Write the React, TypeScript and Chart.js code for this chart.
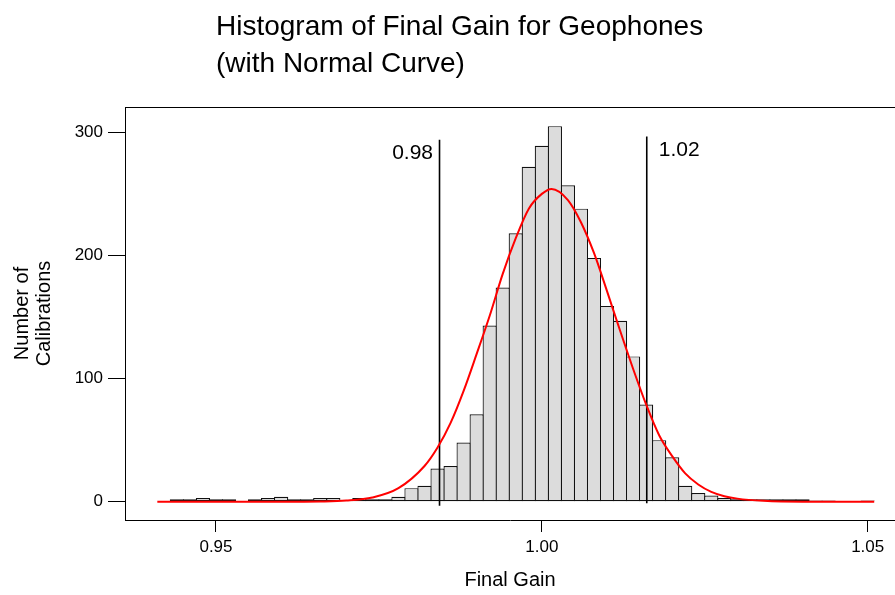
import React, { useEffect, useRef } from 'react';
import { Chart, registerables } from 'chart.js';

Chart.register(...registerables);

const FONT = '"Liberation Sans", Arial, Helvetica, sans-serif';

// Histogram bins (bin centres, width 0.002) and counts
const binCenters = [
  0.944, 0.946, 0.948, 0.95, 0.952, 0.954, 0.956, 0.958, 0.96, 0.962,
  0.964, 0.966, 0.968, 0.97, 0.972, 0.974, 0.976, 0.978, 0.98, 0.982,
  0.984, 0.986, 0.988, 0.99, 0.992, 0.994, 0.996, 0.998, 1.0, 1.002,
  1.004, 1.006, 1.008, 1.01, 1.012, 1.014, 1.016, 1.018, 1.02, 1.022,
  1.024, 1.026, 1.028, 1.03, 1.032, 1.034, 1.036, 1.038, 1.04, 1.042,
  1.044, 1.046, 1.048, 1.05,
];
const binCounts = [
  2, 2, 3, 2, 2, 0, 2, 3, 4, 2,
  2, 3, 3, 0, 3, 2, 2, 4, 11, 13,
  27, 29, 48, 71, 143, 174, 218, 272, 289, 305,
  257, 238, 198, 159, 147, 118, 79, 50, 36, 13,
  7, 5, 3, 2, 2, 2, 2, 2, 2, 1,
  1, 0, 0, 1,
];

// Normal curve
const curveX = [
  0.941, 0.95, 0.96, 0.966, 0.97, 0.974, 0.978, 0.982, 0.984, 0.986,
  0.988, 0.99, 0.992, 0.994, 0.996, 0.998, 1.0, 1.0015, 1.004, 1.006,
  1.008, 1.01, 1.012, 1.014, 1.016, 1.018, 1.02, 1.022, 1.024, 1.026,
  1.028, 1.03, 1.034, 1.04, 1.051,
];
const curveY = [
  0, 0, 0, 0.2, 0.9, 3.4, 11, 29, 44, 64,
  90, 120, 151, 185, 214, 238, 250, 254, 245, 227,
  202, 171, 139, 108, 79, 54, 37, 23, 14, 8,
  4.5, 2.5, 0.7, 0, 0,
];

// Reference lines
const specLineX = [0.9843, 1.0161];
const specLineBottom = [-3.2, -1.3];
const specLineTop = [294, 296.5];
const specLineLabels = ['0.98', '1.02'];
const specLabelY = [278, 281];

const xTickValues = [0.95, 1.0, 1.05];
const yTickValues = [0, 100, 200, 300];

const titleLines = ['Histogram of Final Gain for Geophones', '(with Normal Curve)'];
const xTitle = 'Final Gain';
const yTitle = ['Number of', 'Calibrations'];

const decorPlugin = {
  id: 'decor',
  afterDatasetsDraw(chart: any) {
    const { ctx, chartArea, scales } = chart;
    ctx.save();
    // top frame line
    ctx.strokeStyle = '#000';
    ctx.lineWidth = 1;
    ctx.beginPath();
    ctx.moveTo(chartArea.left, Math.round(chartArea.top) + 0.5);
    ctx.lineTo(chart.width, Math.round(chartArea.top) + 0.5);
    ctx.stroke();
    // reference line labels
    ctx.fillStyle = '#000';
    ctx.font = `21px ${FONT}`;
    ctx.textBaseline = 'alphabetic';
    specLineX.forEach((v, i) => {
      const px = scales.x.getPixelForValue(v);
      const py = scales.y.getPixelForValue(specLabelY[i]);
      if (i === 0) {
        ctx.textAlign = 'right';
        ctx.fillText(specLineLabels[i], px - 6.5, py);
      } else {
        ctx.textAlign = 'left';
        ctx.fillText(specLineLabels[i], px + 12, py);
      }
    });
    // chart title (left aligned block)
    ctx.font = `28px ${FONT}`;
    ctx.textAlign = 'left';
    ctx.fillText(titleLines[0], 216, 35);
    ctx.fillText(titleLines[1], 216, 72);
    ctx.restore();
  },
};

export default function App() {
  const ref = useRef<HTMLCanvasElement>(null);

  useEffect(() => {
    if (!ref.current) return;
    const barData = binCenters
      .map((x, i) => ({ x, y: binCounts[i] }))
      .filter((p) => p.y > 0);
    const curveData = curveX.map((x, i) => ({ x, y: curveY[i] }));
    const specSets = specLineX.map((v, i) => ({
      type: 'line' as const,
      data: [
        { x: v, y: specLineBottom[i] },
        { x: v, y: specLineTop[i] },
      ],
      borderColor: '#000',
      borderWidth: 1.6,
      pointRadius: 0,
      fill: false,
      order: 2,
    }));

    const chart = new Chart(ref.current, {
      type: 'bar',
      data: {
        datasets: [
          {
            type: 'bar',
            data: barData as any,
            backgroundColor: '#dcdcdc',
            borderColor: '#111',
            borderWidth: 1.2,
            borderSkipped: false,
            barPercentage: 1.09,
            categoryPercentage: 1,
            order: 3,
          } as any,
          ...specSets,
          {
            type: 'line',
            data: curveData as any,
            borderColor: '#ff0000',
            borderWidth: 2,
            pointRadius: 0,
            fill: false,
            cubicInterpolationMode: 'monotone',
            order: 1,
          } as any,
        ],
      },
      options: {
        animation: false,
        responsive: false,
        devicePixelRatio: 1,
        layout: { padding: { top: 107, left: 0, right: 0, bottom: 0 } },
        plugins: {
          legend: { display: false },
          tooltip: { enabled: false },
          title: { display: false },
        },
        scales: {
          x: {
            type: 'linear',
            min: 0.93604,
            max: 1.05419,
            offset: false,
            afterBuildTicks: (s: any) => {
              s.ticks = xTickValues.map((v) => ({ value: v }));
            },
            afterFit: (s: any) => {
              s.height = 75;
            },
            grid: {
              display: true,
              drawOnChartArea: false,
              drawTicks: true,
              tickLength: 12,
              color: '#000',
              lineWidth: 1,
              offset: false,
            },
            border: { display: true, color: '#000', width: 1 },
            ticks: {
              callback: (v: any) => Number(v).toFixed(2),
              font: { family: FONT, size: 17 },
              color: '#000',
              padding: 5,
              maxRotation: 0,
              autoSkip: false,
            },
            title: {
              display: true,
              text: xTitle,
              font: { family: FONT, size: 20 },
              color: '#000',
              padding: { top: 0, bottom: 3 },
            },
          } as any,
          y: {
            type: 'linear',
            min: -14.86,
            max: 320.55,
            afterBuildTicks: (s: any) => {
              s.ticks = yTickValues.map((v) => ({ value: v }));
            },
            afterFit: (s: any) => {
              s.width = 125;
            },
            grid: {
              display: true,
              drawOnChartArea: false,
              drawTicks: true,
              tickLength: 17,
              color: '#000',
              lineWidth: 1,
            },
            border: { display: true, color: '#000', width: 1 },
            ticks: {
              font: { family: FONT, size: 17 },
              color: '#000',
              padding: 5,
            },
            title: {
              display: true,
              text: yTitle,
              font: { family: FONT, size: 20, lineHeight: 1.1 },
              color: '#000',
              padding: { top: 11, bottom: 0 },
            },
          } as any,
        },
      },
      plugins: [decorPlugin],
    });
    return () => chart.destroy();
  }, []);

  return (
    <div style={{ position: 'absolute', left: 0, top: 0, width: 895, height: 595, background: '#fff' }}>
      <canvas ref={ref} width={895} height={595} style={{ display: 'block' }} />
    </div>
  );
}
